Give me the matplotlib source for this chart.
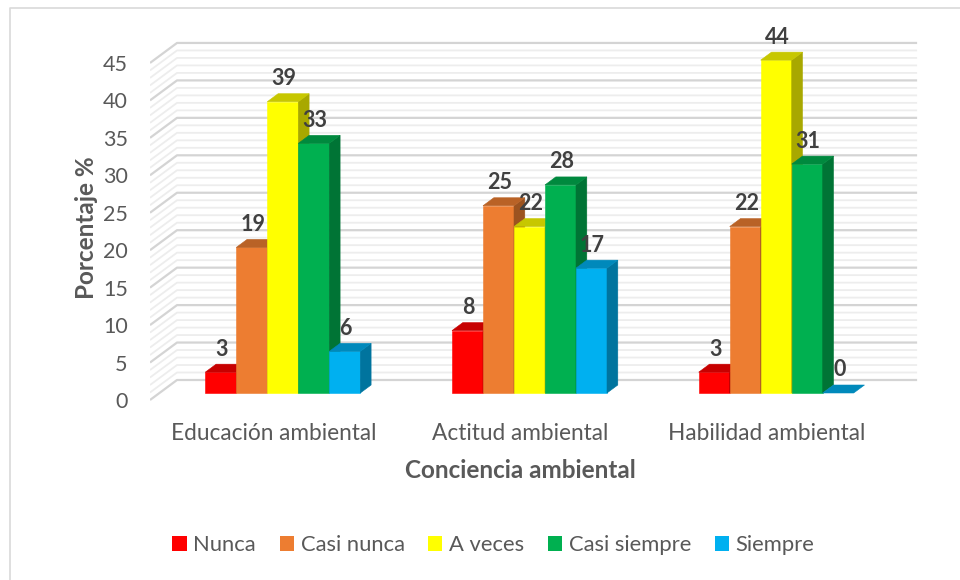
import matplotlib
matplotlib.use("Agg")
import matplotlib.pyplot as plt
from matplotlib.patches import Rectangle, Polygon, Patch
from matplotlib.lines import Line2D
import matplotlib.colors as mcolors

plt.rcParams['font.family'] = ['Lato', 'DejaVu Sans']

categories = ["Educación ambiental", "Actitud ambiental", "Habilidad ambiental"]
series_names = ["Nunca", "Casi nunca", "A veces", "Casi siempre", "Siempre"]
nunca = [2.78, 8.33, 2.78]
casi_nunca = [19.44, 25.00, 22.22]
a_veces = [38.89, 22.22, 44.44]
casi_siempre = [33.33, 27.78, 30.56]
siempre = [5.56, 16.67, 0.00]
series_values = [nunca, casi_nunca, a_veces, casi_siempre, siempre]
colors = ["#FF0000", "#ED7D31", "#FFFF00", "#00B050", "#00B0F0"]
yticks = list(range(0, 50, 5))

W, H = 960, 580
fig = plt.figure(figsize=(W / 100, H / 100), dpi=100)

# geometry (pixels)
CAT_PX = 246.7
VAL_PX = 7.49
AX_L, AX_R, AX_T, AX_B = 150, 922, 36, 405
ZERO_PX = 400
ax = fig.add_axes([AX_L / W, 1 - AX_B / H, (AX_R - AX_L) / W, (AX_B - AX_T) / H])
ax.set_xlim(-0.5, -0.5 + (AX_R - AX_L) / CAT_PX)
ax.set_ylim((ZERO_PX - AX_B) / VAL_PX, (ZERO_PX - AX_T) / VAL_PX)
for s in ax.spines.values():
    s.set_visible(False)

DXW = 27 / CAT_PX
DYW = 20 / VAL_PX
n_cat = len(categories)
x_left = -0.5
x_right = n_cat - 0.5

# walls gridlines
for v in range(0, 46):
    major = (v % 5 == 0)
    col = "#D4D4D4" if major else "#EDEDED"
    lw = 1.6 if major else 1.3
    ax.plot([x_left, x_left + DXW, x_right + DXW], [v, v + DYW, v + DYW],
            color=col, lw=lw, zorder=1 if not major else 1.5, solid_capstyle='butt')

def shade(c, f):
    r, g, b = mcolors.to_rgb(c)
    return (r * f, g * f, b * f)

w = 31 / CAT_PX
FD = 0.35
BD = 0.4
bdx, bdy = BD * DXW, BD * DYW
for i in range(n_cat):
    for j, vals in enumerate(series_values):
        v = vals[i]
        col = colors[j]
        xl = i + (j - 2.5) * w + FD * DXW
        yb = FD * DYW
        z = 3 + i * 10 + j
        if v > 0:
            ax.add_patch(Rectangle((xl, yb), w, v, facecolor=col, edgecolor=col, lw=0.4, zorder=z))
            ax.add_patch(Polygon([(xl + w, yb), (xl + w + bdx, yb + bdy), (xl + w + bdx, yb + v + bdy),
                                  (xl + w, yb + v)], closed=True, facecolor=shade(col, 0.66),
                                 edgecolor=shade(col, 0.66), lw=0.4, zorder=z))
        topc = shade(col, 0.78)
        ax.add_patch(Polygon([(xl, yb + v), (xl + w, yb + v), (xl + w + bdx, yb + v + bdy),
                              (xl + bdx, yb + v + bdy)], closed=True, facecolor=topc,
                             edgecolor=topc, lw=0.4, zorder=z))
        ax.text(xl + w / 2 + 1 / CAT_PX, yb + v + 23 / VAL_PX, f"{v:.0f}", ha='center', va='center',
                fontsize=15.5, fontweight='bold', color="#404040", zorder=100)

ax.set_yticks(yticks)
ax.set_yticklabels([str(t) for t in yticks])
ax.set_xticks(range(n_cat))
ax.set_xticklabels(categories)
ax.tick_params(axis='y', length=0, pad=16, labelsize=15.5, labelcolor="#595959")
ax.tick_params(axis='x', length=0, pad=13, labelsize=16.3, labelcolor="#595959")

fig.text(520 / W, 1 - 470 / H, "Conciencia ambiental", ha='center', va='center',
         fontsize=17.5, fontweight='bold', color="#595959")
fig.text(86 / W, 1 - 228 / H, "Porcentaje %", ha='center', va='center', rotation=90,
         fontsize=17.5, fontweight='bold', color="#595959")

handles = [Patch(facecolor=c, edgecolor='none') for c in colors]
fig.legend(handles, series_names, loc='center', bbox_to_anchor=(493.5 / W, 1 - 545 / H), ncol=5,
           frameon=False, fontsize=15.8, handlelength=0.65, handleheight=0.65, handletextpad=0.3,
           columnspacing=1.08, labelcolor="#595959")

# chart border (left and top visible)
fig.add_artist(Line2D([10 / W, 10 / W, 1.0], [0, 1 - 8 / H, 1 - 8 / H], transform=fig.transFigure,
                      color="#D9D9D9", lw=1.2))

fig.savefig("out.png", dpi=100, facecolor="white")
